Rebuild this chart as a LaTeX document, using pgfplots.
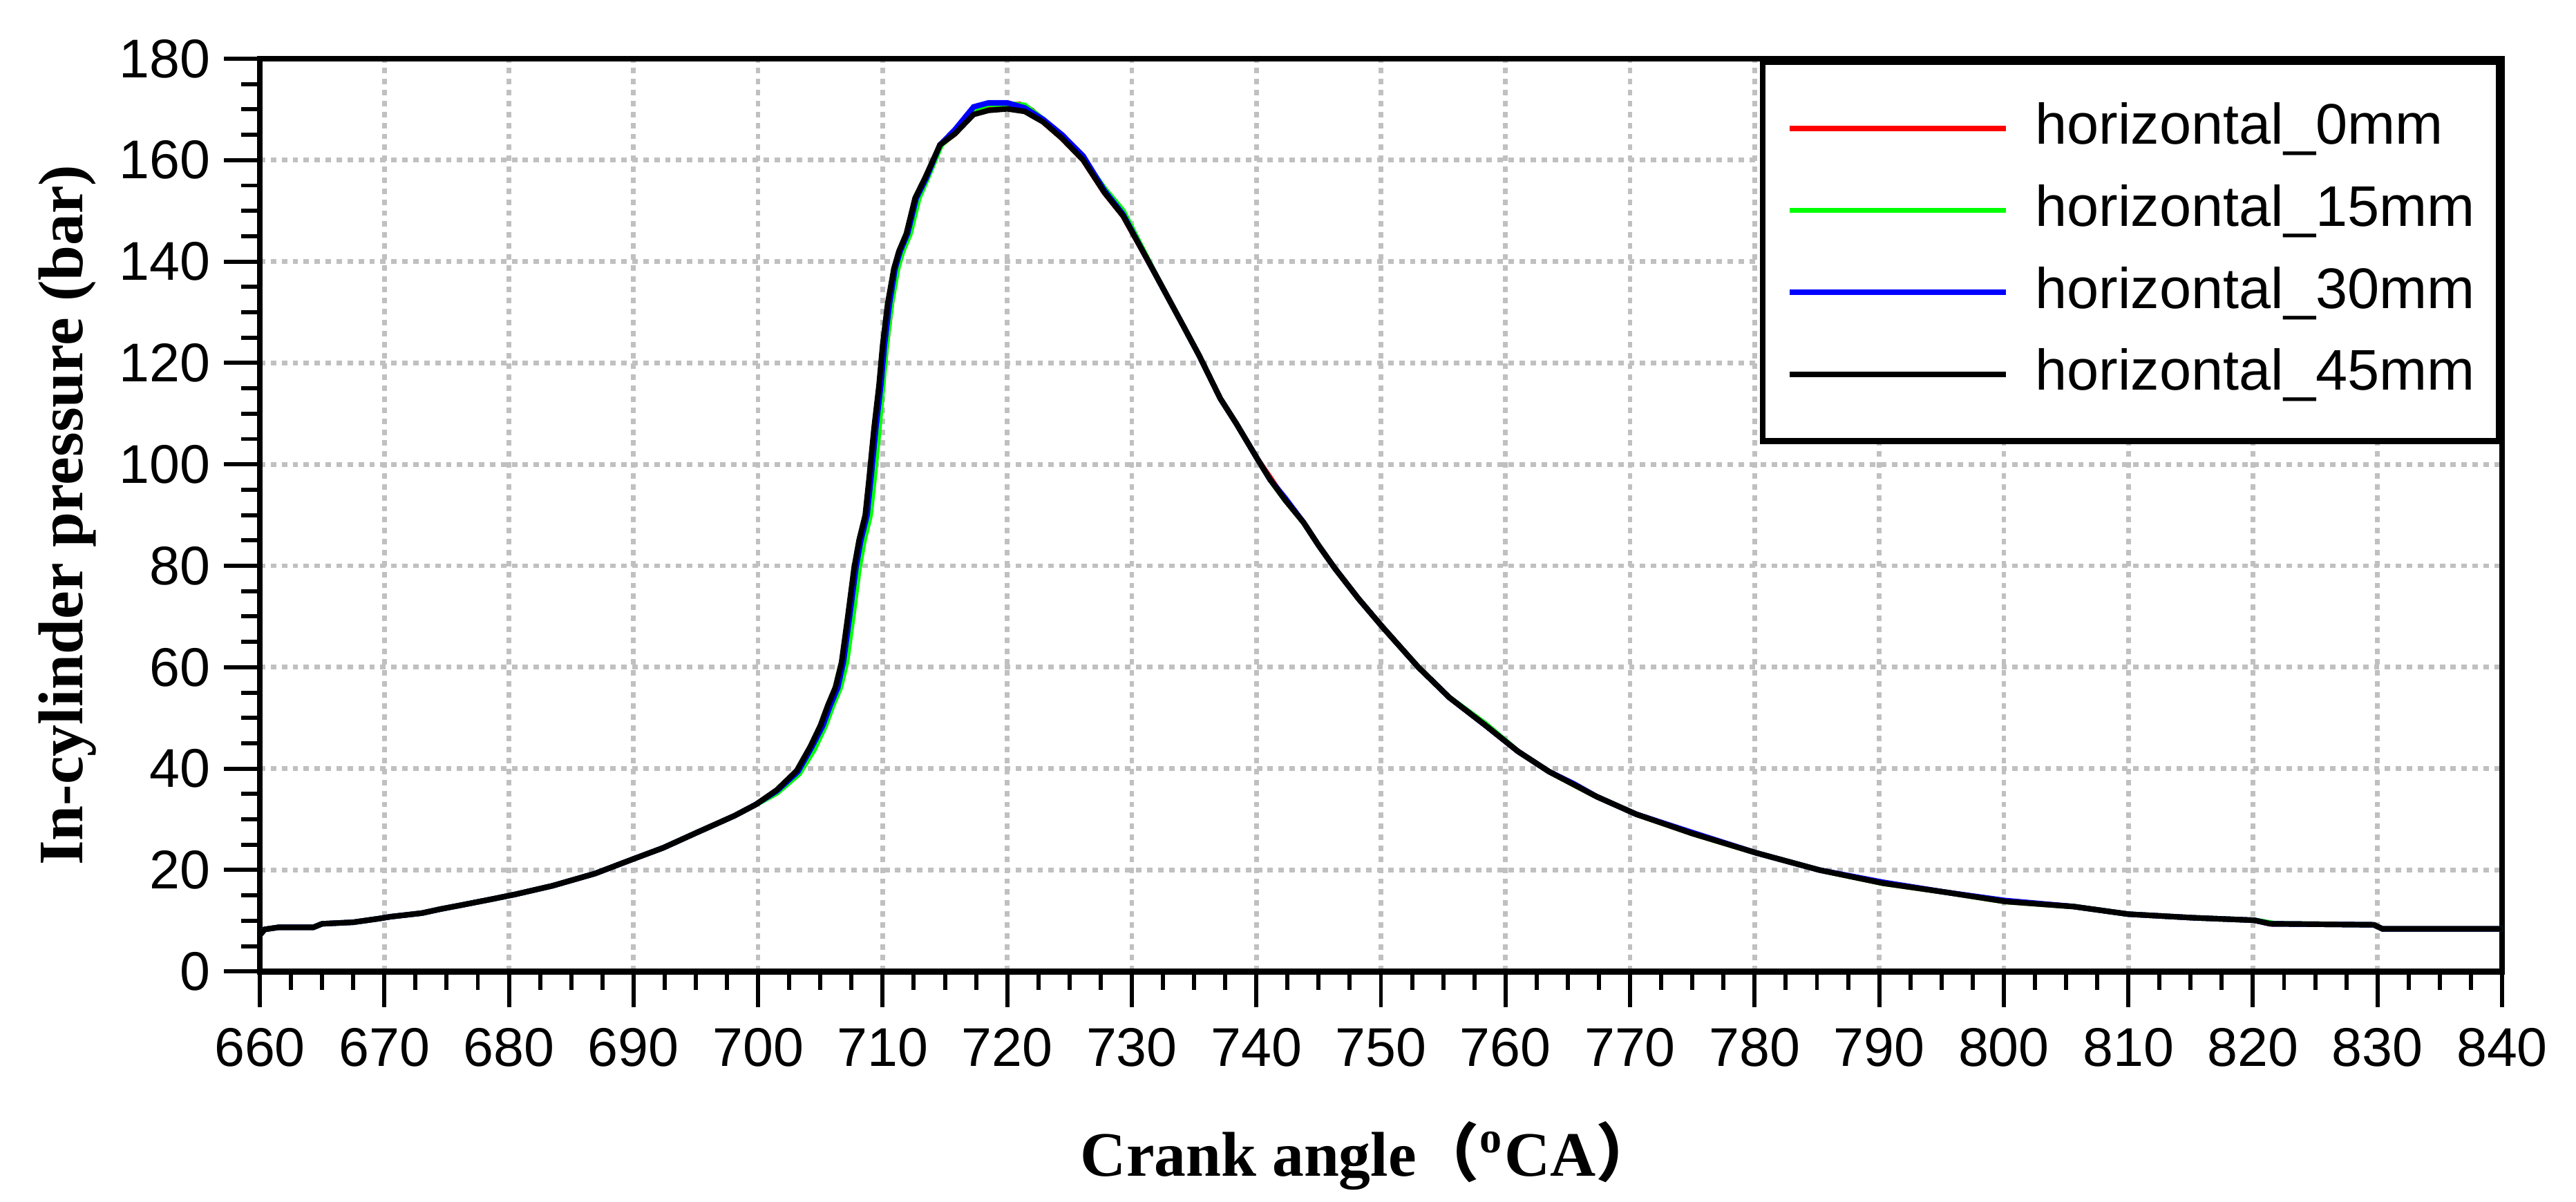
\documentclass[border=0pt]{standalone}
\usepackage{fontspec}
\setmainfont{Liberation Serif}
\newfontfamily\sansf{Liberation Sans}
\newfontfamily\cjk{Noto Sans CJK SC}
\usepackage{pgfplots}
\pgfplotsset{compat=1.18}
\definecolor{gridc}{RGB}{192,192,192}
\definecolor{cred}{RGB}{255,0,0}
\definecolor{cgreen}{RGB}{0,255,0}
\definecolor{cblue}{RGB}{0,0,255}
\begin{document}
\begin{tikzpicture}
\begin{axis}[
  scale only axis,
  width=409.4bp, height=166.7bp,
  xmin=660, xmax=840, ymin=0, ymax=180,
  xtick={660,670,...,840}, ytick={0,20,...,180},
  minor x tick num=3, minor y tick num=3,
  tick pos=left,
  tick align=outside,
  major tick length=6.5bp, minor tick length=3.4bp,
  every tick/.style={black, line width=0.75bp},
  axis line style={line width=1.1bp},
  grid=major,
  major grid style={gridc, line width=0.85bp, dash pattern=on 1bp off 1bp},
  /pgf/number format/assume math mode=true,
  /pgf/number format/1000 sep={},
  xticklabel style={font=\fontsize{10}{12}\sansf, anchor=base, inner sep=0pt, yshift=-10.8bp},
  yticklabel style={font=\fontsize{10}{12}\sansf, anchor=east, inner sep=0pt, xshift=-2.35bp},
  xlabel={Crank angle\hspace{0pt}{\cjk （}\textsuperscript{o}CA{\cjk ）}},
  ylabel={In-cylinder pressure (bar)},
  xlabel style={font=\fontsize{11.6}{13}\selectfont\bfseries, at={(axis description cs:0.5,-0.2244)}, anchor=base, inner sep=0pt, xshift=-2bp},
  ylabel style={font=\fontsize{11.6}{13}\selectfont\bfseries, at={(axis description cs:-0.0789,0.5)}, anchor=base, inner sep=0pt},
  legend cell align=left,
  legend image code/.code={\draw[#1, line width=1bp] (0bp,0bp) -- (39.5bp,0bp);},
  legend style={at={(rel axis cs:1,1)}, anchor=north east, draw=black, line width=1.1bp, fill=white,
    inner xsep=4.4bp, inner ysep=7.4bp, row sep=5.5bp, column sep=4.9bp,
    font=\fontsize{10.5}{12}\sansf,
    nodes={inner sep=0pt, text height=7.6bp, text depth=1.9bp}},
]
\addplot[cred, line width=1bp] table {
660.0 7.2
660.4 8.3
661.5 8.7
664.3 8.7
665.0 9.4
667.5 9.7
669.5 10.4
670.5 10.8
673.0 11.5
674.5 12.3
676.0 13.0
678.5 14.2
680.5 15.2
683.5 16.9
686.9 19.3
690.0 22.2
692.4 24.4
695.0 27.3
698.1 30.7
699.8 32.9
701.5 35.5
703.3 39.2
704.4 44.0
705.3 48.5
705.9 52.5
706.5 56.0
707.0 61.0
707.5 70.0
708.0 79.5
708.4 85.0
708.9 90.0
709.2 97.0
709.6 107.0
709.95 115.5
710.3 123.6
710.7 131.7
711.1 138.6
711.5 142.0
712.1 145.5
712.8 152.5
713.5 156.5
714.6 163.0
715.8 165.2
717.3 169.3
718.5 170.2
720.0 170.8
721.0 171.0
722.0 169.8
722.9 167.5
724.4 164.3
726.1 160.0
727.8 153.6
729.3 149.0
731.0 141.5
732.0 137.0
734.2 127.0
735.4 121.5
737.1 113.0
738.4 108.0
740.1 101.0
741.1 97.4
742.3 93.0
743.8 88.5
745.0 84.0
746.3 79.5
748.2 73.5
750.1 68.0
753.0 60.0
755.5 54.0
758.4 48.5
761.0 43.4
763.5 39.4
767.3 34.5
770.5 31.0
775.0 27.2
780.1 23.4
785.2 20.0
790.3 17.4
795.4 15.6
800.1 13.8
805.6 12.8
810.0 11.3
815.1 10.6
820.1 10.1
821.4 9.4
829.7 9.2
830.4 8.4
840.0 8.4
};
\addlegendentry{horizontal\_0mm}
\addplot[cgreen, line width=1bp] table {
660.0 7.2
660.4 8.3
661.5 8.7
664.3 8.7
665.0 9.4
667.5 9.7
669.5 10.4
670.5 10.8
673.0 11.5
674.5 12.3
676.0 13.0
678.5 14.2
680.5 15.2
683.5 16.9
686.9 19.3
690.0 22.2
692.4 24.4
695.0 27.3
698.1 30.7
699.8 32.9
701.5 35.2
703.3 39.0
704.5 43.8
705.4 48.5
706.0 52.5
706.6 56.0
707.1 61.0
707.6 70.0
708.1 79.5
708.5 85.0
709.0 90.0
709.3 97.0
709.7 107.0
710.0 115.5
710.3 123.6
710.7 131.7
711.2 138.6
711.6 142.0
712.2 145.5
712.9 152.5
713.6 156.5
714.7 163.0
715.9 165.6
717.3 170.0
718.5 171.0
720.0 171.1
721.4 170.8
722.9 168.0
724.4 164.5
726.1 160.2
727.8 154.4
729.3 150.0
731.0 141.8
732.0 137.0
734.2 127.0
735.4 121.5
737.1 113.0
738.4 108.0
740.1 101.0
741.1 97.0
742.3 93.0
743.8 88.5
745.0 84.0
746.3 79.5
748.2 73.5
750.1 68.0
753.0 60.0
755.5 54.0
758.4 48.8
761.0 43.4
763.5 39.4
767.3 34.5
770.5 31.0
775.0 27.2
780.1 23.4
785.2 20.0
790.3 17.4
795.4 15.6
800.1 13.8
805.6 12.8
810.0 11.3
815.1 10.6
820.1 10.1
821.8 9.4
829.7 9.2
830.4 8.4
840.0 8.4
};
\addlegendentry{horizontal\_15mm}
\addplot[cblue, line width=1bp] table {
660.0 7.2
660.4 8.3
661.5 8.7
664.3 8.7
665.0 9.4
667.5 9.7
669.5 10.4
670.5 10.8
673.0 11.5
674.5 12.3
676.0 13.0
678.5 14.2
680.5 15.2
683.5 16.9
686.9 19.3
690.0 22.2
692.4 24.4
695.0 27.3
698.1 30.7
699.8 32.9
701.5 35.6
703.2 39.4
704.3 44.2
705.2 48.5
705.8 52.5
706.4 56.0
706.85 61.0
707.35 70.0
707.85 79.5
708.25 85.0
708.75 90.0
709.05 97.0
709.45 107.0
709.85 115.5
710.15 123.6
710.55 131.7
711.0 138.6
711.4 142.0
712.0 145.5
712.7 152.5
713.5 156.5
714.6 163.0
715.8 166.0
717.3 170.5
718.5 171.3
720.0 171.3
721.4 170.3
722.9 168.0
724.4 165.0
726.1 160.8
727.8 154.0
729.3 149.3
731.0 141.5
732.0 137.0
734.2 127.0
735.4 121.5
737.1 113.0
738.4 108.0
740.1 101.0
741.1 97.0
742.3 93.4
743.8 88.5
745.0 84.0
746.3 79.5
748.2 73.5
750.1 68.0
753.0 60.0
755.5 54.0
758.4 48.5
761.0 43.4
763.5 39.4
765.5 37.0
767.3 34.5
770.5 31.0
775.0 27.4
780.1 23.4
785.2 20.0
790.3 17.6
795.4 15.6
800.1 14.0
805.6 12.8
810.0 11.3
815.1 10.6
820.1 10.1
821.4 9.4
829.7 9.2
830.4 8.4
840.0 8.4
};
\addlegendentry{horizontal\_30mm}
\addplot[black, line width=1bp] table {
660.0 7.2
660.4 8.3
661.5 8.7
664.3 8.7
665.0 9.4
667.5 9.7
669.5 10.4
670.5 10.8
673.0 11.5
674.5 12.3
676.0 13.0
678.5 14.2
680.5 15.2
683.5 16.9
686.9 19.3
690.0 22.2
692.4 24.4
695.0 27.3
698.1 30.7
699.8 32.9
701.5 35.8
703.1 39.6
704.2 44.4
705.0 48.5
705.6 52.5
706.2 56.0
706.7 61.0
707.2 70.0
707.7 79.5
708.1 85.0
708.6 90.0
708.9 97.0
709.3 107.0
709.7 115.5
710.0 123.6
710.4 131.7
710.9 138.6
711.3 142.0
711.9 145.5
712.6 152.5
713.4 156.5
714.6 163.0
715.8 165.2
717.3 169.0
718.5 169.8
720.0 170.1
721.4 169.6
722.9 167.5
724.4 164.3
726.1 160.0
727.8 153.6
729.3 149.0
731.0 141.5
732.0 137.0
734.2 127.0
735.4 121.5
737.1 113.0
738.4 108.0
740.1 101.0
741.1 97.0
742.3 93.0
743.8 88.5
745.0 84.0
746.3 79.5
748.2 73.5
750.1 68.0
753.0 60.0
755.5 54.0
758.4 48.5
761.0 43.4
763.5 39.4
767.3 34.5
770.5 31.0
775.0 27.2
780.1 23.4
785.2 20.0
790.3 17.4
795.4 15.6
800.1 13.8
805.6 12.8
810.0 11.3
815.1 10.6
820.1 10.1
821.4 9.4
829.7 9.2
830.4 8.4
840.0 8.4
};
\addlegendentry{horizontal\_45mm}
\coordinate (sw) at (rel axis cs:0,0);
\coordinate (ne) at (rel axis cs:1,1);
\end{axis}
\pgfresetboundingbox
\path[use as bounding box] ([xshift=-47.44bp,yshift=-42.0bp]sw) rectangle ([xshift=13.5bp,yshift=10.72bp]ne);
\end{tikzpicture}
\end{document}
